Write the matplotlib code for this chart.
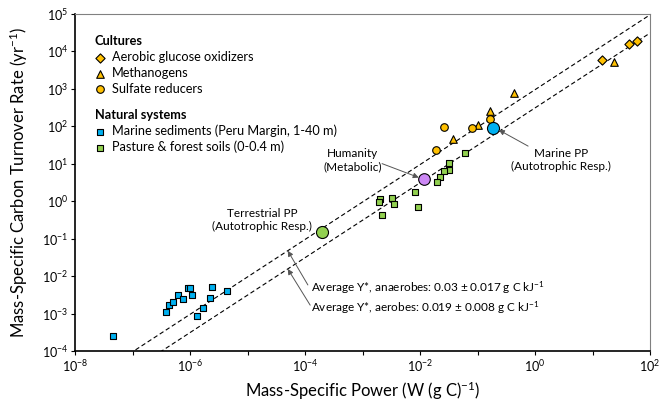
import numpy as np
import matplotlib
matplotlib.use("Agg")
import matplotlib.pyplot as plt

plt.rcParams['font.family'] = ['Lato', 'DejaVu Sans']
plt.rcParams['mathtext.fontset'] = 'custom'
plt.rcParams['mathtext.rm'] = 'Lato'
plt.rcParams['mathtext.it'] = 'Lato:italic'
plt.rcParams['mathtext.bf'] = 'Lato:bold'

# Cultures
glucose_power = [14.6, 42.7, 60.0]
glucose_rate = [5900, 15500, 19500]
methano_power = [0.037, 0.102, 0.162, 0.44, 24.0]
methano_rate = [45, 107, 263, 794, 5250]
sulfate_power = [0.019, 0.026, 0.079, 0.166]
sulfate_rate = [23, 98, 89, 155]

# Natural systems
sediment_power = [4.5e-8, 3.8e-7, 4.4e-7, 5.1e-7, 6.3e-7, 7.6e-7, 9.3e-7,
                  1.0e-6, 1.1e-6, 1.3e-6, 1.7e-6, 2.2e-6, 2.4e-6, 4.4e-6]
sediment_rate = [2.5e-4, 1.1e-3, 1.7e-3, 2.0e-3, 3.1e-3, 2.5e-3, 4.9e-3,
                 4.8e-3, 3.2e-3, 8.5e-4, 1.4e-3, 2.6e-3, 5.0e-3, 4.0e-3]
soil_power = [0.060, 0.032, 0.032, 0.026, 0.022, 0.020, 0.0083, 0.0091,
              0.0020, 0.0019, 0.0033, 0.0035, 0.0022]
soil_rate = [20, 10.2, 6.8, 6.5, 4.4, 3.3, 1.8, 0.71, 1.12, 0.93, 1.23, 0.85, 0.43]

# Single reference points
humanity = (0.0117, 3.85)
marine_pp = (0.186, 89)
terrestrial_pp = (2.0e-4, 0.148)

# Average Y* lines: rate = coef * power
coef_anaerobes = 950
coef_aerobes = 310
line_power = np.array([1e-8, 1e2])

fig = plt.figure(figsize=(6.65, 4.11), dpi=100)
ax = fig.add_axes([75/665, 1-351/411, 575/665, 337/411])

ax.plot(line_power, coef_anaerobes*line_power, ls=(0, (4, 2.5)), color='black', lw=0.8, zorder=1)
ax.plot(line_power, coef_aerobes*line_power, ls=(0, (4, 2.5)), color='black', lw=0.8, zorder=1)

ek = dict(edgecolors='black', linewidths=0.8, zorder=3)
h1 = ax.scatter(glucose_power, glucose_rate, marker='D', s=22, c='#FFC000', **ek)
h2 = ax.scatter(methano_power, methano_rate, marker='^', s=30, c='#FFC000', **ek)
h3 = ax.scatter(sulfate_power, sulfate_rate, marker='o', s=30, c='#FFC000', **ek)
h4 = ax.scatter(sediment_power, sediment_rate, marker='s', s=24, c='#00B0F0', **ek)
h5 = ax.scatter(soil_power, soil_rate, marker='s', s=24, c='#92D050', **ek)

ax.scatter(*humanity, marker='o', s=70, c='#CC88F5', **ek)
ax.scatter(*marine_pp, marker='o', s=75, c='#00B0F0', **ek)
ax.scatter(*terrestrial_pp, marker='o', s=75, c='#92D050', **ek)

ax.set_xscale('log')
ax.set_yscale('log')
ax.set_xlim(1e-8, 1e2)
ax.set_ylim(1e-4, 1e5)
ax.set_xticks([10.0**k for k in range(-8, 3)])
ax.set_xticklabels(['$10^{%d}$' % k if k % 2 == 0 else '' for k in range(-8, 3)])
ax.set_yticks([10.0**k for k in range(-4, 6)])
ax.set_yticklabels(['$10^{%d}$' % k for k in range(-4, 6)])
ax.minorticks_off()
ax.tick_params(direction='out', length=3, width=0.8, labelsize=9, pad=2)
ax.spines['left'].set_linewidth(1.2)
ax.spines['bottom'].set_linewidth(1.2)
ax.spines['top'].set_color('#808080')
ax.spines['right'].set_color('#808080')

ax.set_xlabel('Mass-Specific Power (W (g C)$^{-1}$)', fontsize=12, labelpad=4)
ax.set_ylabel('Mass-Specific Carbon Turnover Rate (yr$^{-1}$)', fontsize=12, labelpad=8)

leg_kw = dict(loc='upper left', frameon=False, fontsize=9.2, borderpad=0, borderaxespad=0,
              handlelength=0.8, handletextpad=0.55, labelspacing=0.3, alignment='left',
              title_fontproperties={'weight': 'bold', 'size': 9.2})
leg1 = ax.legend([h1, h2, h3], ['Aerobic glucose oxidizers', 'Methanogens', 'Sulfate reducers'],
                 title='Cultures', bbox_to_anchor=(0.034, 0.937), **leg_kw)
ax.add_artist(leg1)
ax.legend([h4, h5], ['Marine sediments (Peru Margin, 1-40 m)', 'Pasture & forest soils (0-0.4 m)'],
          title='Natural systems', bbox_to_anchor=(0.034, 0.719), **leg_kw)

arrow = dict(arrowstyle='-|>', color='#555555', lw=0.7, mutation_scale=8, shrinkA=0, shrinkB=0)
ax.text(0.483, 0.567, 'Humanity\n(Metabolic)', transform=ax.transAxes, ha='center', va='center',
        fontsize=8.5, linespacing=1.3)
ax.annotate('', xy=(0.0095, 4.3), xytext=(0.534, 0.556), textcoords='axes fraction', arrowprops=arrow)
ax.text(0.845, 0.567, 'Marine PP\n(Autotrophic Resp.)', transform=ax.transAxes, ha='center', va='center',
        fontsize=8.5, linespacing=1.3)
ax.annotate('', xy=(0.235, 80), xytext=(0.788, 0.608), textcoords='axes fraction', arrowprops=arrow)
ax.text(0.325, 0.389, 'Terrestrial PP\n(Autotrophic Resp.)', transform=ax.transAxes, ha='center',
        va='center', fontsize=8.5, linespacing=1.3)

p_arrow = 10**-4.3
ax.annotate('', xy=(p_arrow, coef_anaerobes*p_arrow), xytext=(0.405, 0.196),
            textcoords='axes fraction', arrowprops=arrow)
ax.annotate('', xy=(p_arrow, coef_aerobes*p_arrow), xytext=(0.409, 0.136),
            textcoords='axes fraction', arrowprops=arrow)
ax.text(0.410, 0.187, 'Average Y*, anaerobes: 0.03 ± 0.017 g C kJ$^{-1}$', transform=ax.transAxes,
        ha='left', va='center', fontsize=8.5)
ax.text(0.410, 0.128, 'Average Y*, aerobes: 0.019 ± 0.008 g C kJ$^{-1}$', transform=ax.transAxes,
        ha='left', va='center', fontsize=8.5)

fig.savefig('out.png', dpi=100)
